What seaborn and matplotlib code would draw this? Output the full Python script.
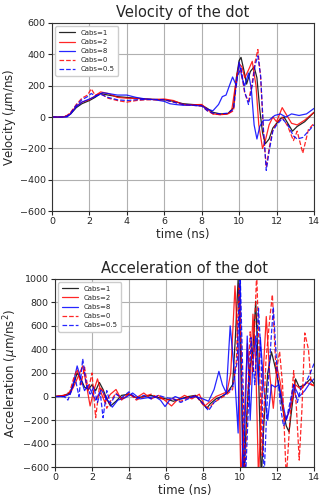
import matplotlib
matplotlib.use("Agg")
import matplotlib.pyplot as plt
import seaborn as sns

sns.set_theme(style="ticks")
plt.rcParams['font.family'] = ['DejaVu Sans']

# --- velocity data (ns, um/ns) ---
t_v_c1 = [0, 0.5, 0.8, 1.0, 1.3, 1.6, 2.0, 2.3, 2.6, 3.0, 3.5, 4.0, 4.5, 5.0, 5.5, 6.0, 6.5, 7.0, 7.5, 8.0, 8.3, 8.6, 9.0, 9.4, 9.7,
          9.85, 10.0, 10.1, 10.25, 10.4, 10.6, 10.8, 10.95, 11.1, 11.25, 11.4, 11.6, 11.8, 12.0, 12.2, 12.4, 12.6, 12.85, 13.1, 13.5, 14.0]
v_c1 = [0, 0, 5, 20, 60, 85, 105, 125, 150, 140, 130, 125, 120, 115, 112, 110, 100, 85, 80, 75, 55, 30, 20, 22, 60,
        250, 360, 380, 300, 210, 290, 320, 250, 50, -100, -170, -140, -70, -40, -10, 0, -40, -90, -60, -30, 30]

t_v_c2 = [0, 0.5, 0.8, 1.0, 1.3, 1.6, 2.0, 2.3, 2.6, 3.0, 3.5, 4.0, 4.5, 5.0, 5.5, 6.0, 6.5, 7.0, 7.5, 8.0, 8.3, 8.6, 9.0, 9.4, 9.6,
          9.8, 10.0, 10.15, 10.3, 10.5, 10.7, 10.9, 11.05, 11.25, 11.4, 11.6, 11.8, 12.0, 12.3, 12.5, 12.8, 13.1, 13.5, 14.0]
v_c2 = [0, 0, 5, 25, 70, 95, 110, 135, 160, 150, 125, 120, 118, 115, 112, 115, 105, 80, 78, 80, 50, 20, 15, 20, 40,
        200, 340, 320, 250, 300, 355, 200, -50, -200, -150, -50, 0, -30, 60, 20, -40, -50, -20, 30]

t_v_c8 = [0, 0.5, 0.8, 1.0, 1.3, 1.6, 2.0, 2.4, 2.7, 3.0, 3.5, 4.0, 4.5, 5.0, 5.5, 6.0, 6.3, 6.6, 7.0, 7.5, 8.0, 8.3, 8.6, 8.9, 9.1,
          9.3, 9.45, 9.65, 9.85, 10.0, 10.15, 10.3, 10.5, 10.65, 10.8, 10.95, 11.1, 11.3, 11.6, 11.9, 12.2, 12.5, 12.8, 13.2, 13.6, 14.0]
v_c8 = [0, 0, 0, 20, 65, 95, 115, 135, 155, 150, 140, 140, 125, 115, 110, 100, 85, 80, 75, 75, 70, 50, 40, 80, 130,
        140, 190, 255, 200, 350, 250, 200, 280, 180, -50, -140, -60, -20, -20, 10, 20, 0, 20, 10, 20, 55]

t_v_c0 = [0, 0.5, 0.8, 1.0, 1.3, 1.6, 1.9, 2.1, 2.3, 2.6, 3.0, 3.5, 4.0, 4.5, 5.0, 5.5, 6.0, 6.5, 7.0, 7.5, 8.0, 8.3, 8.6, 9.0, 9.4, 9.7,
          9.9, 10.1, 10.3, 10.5, 10.7, 10.85, 11.0, 11.15, 11.3, 11.45, 11.6, 11.8, 12.0, 12.3, 12.6, 12.9, 13.1, 13.4, 13.7, 14.0]
v_c0 = [0, 0, 10, 30, 80, 120, 140, 180, 140, 150, 120, 105, 95, 105, 110, 110, 110, 95, 80, 75, 70, 40, 20, 15, 20, 40,
        280, 300, 150, 100, 220, 350, 430, 250, -100, -320, -200, -80, -40, 0, -60, -150, -90, -230, -80, -40]

t_v_c05 = t_v_c0
v_c05 = [0, 0, 5, 25, 75, 110, 130, 150, 135, 145, 125, 110, 105, 110, 112, 112, 110, 95, 80, 75, 72, 40, 25, 20, 25, 50,
         260, 310, 160, 80, 200, 330, 390, 260, -80, -340, -220, -90, -50, -10, -50, -120, -140, -130, -90, -50]

# --- acceleration data (ns, um/ns^2) ---
t_a_c1 = [0, 0.5, 0.8, 1.0, 1.2, 1.4, 1.6, 1.8, 2.0, 2.2, 2.4, 2.6, 2.8, 3.0, 3.3, 3.6, 4.0, 4.4, 4.8, 5.2, 5.6, 6.0, 6.4, 6.8, 7.2,
          7.6, 8.0, 8.2, 8.4, 8.7, 9.0, 9.3, 9.6, 9.75, 9.9, 10.05, 10.2, 10.35, 10.5, 10.7, 10.85, 11.0, 11.15, 11.3, 11.5, 11.7,
          11.9, 12.1, 12.3, 12.5, 12.65, 12.8, 13.0, 13.2, 13.5, 13.8, 14.0]
a_c1 = [0, 10, 30, 100, 200, 150, 80, 60, 100, 50, 120, 60, -20, -80, -40, 10, 20, -10, 0, 10, -10, -20, -40, -20, 0,
        10, -60, -100, -60, -20, 0, 30, 100, 500, 1000, 300, -700, -200, 200, 400, 810, 200, -700, -200, 200, 380,
        250, 100, -100, -250, -300, -100, 150, 80, 100, 150, 110]

t_a_c2 = [0, 0.5, 0.8, 1.0, 1.2, 1.5, 1.7, 1.9, 2.1, 2.3, 2.5, 2.7, 3.0, 3.3, 3.6, 4.0, 4.4, 4.8, 5.2, 5.6, 6.0, 6.3, 6.6, 7.0, 7.4,
          7.8, 8.1, 8.4, 8.7, 9.0, 9.3, 9.5, 9.73, 9.9, 10.05, 10.2, 10.4, 10.55, 10.7, 10.85, 11.0, 11.15, 11.42, 11.6, 11.8,
          12.0, 12.2, 12.4, 12.6, 12.8, 13.0, 13.3, 13.6, 14.0]
a_c2 = [0, 10, 20, 80, 150, 260, 100, -80, 50, 150, 30, -50, 20, 60, -30, 20, -10, 30, -20, 10, -40, -80, -30, 10, -20,
        20, -80, -40, 0, 20, 40, 200, 940, 400, -700, -300, 450, 100, 700, 300, -700, -100, 680, 200, -100,
        250, 100, -200, -150, -50, 100, 60, 120, 90]

t_a_c8 = [0, 0.5, 0.8, 1.0, 1.2, 1.4, 1.6, 1.8, 2.0, 2.2, 2.5, 2.8, 3.1, 3.4, 3.8, 4.2, 4.6, 5.0, 5.4, 5.7, 5.95, 6.2, 6.5, 6.8, 7.2,
          7.6, 8.0, 8.3, 8.6, 8.86, 9.05, 9.26, 9.47, 9.7, 9.9, 10.0, 10.15, 10.3, 10.39, 10.55, 10.7, 10.84, 11.0, 11.1, 11.3,
          11.5, 11.7, 11.9, 12.1, 12.3, 12.5, 12.7, 12.9, 13.2, 13.5, 13.8, 14.0]
a_c8 = [0, 0, 20, 120, 260, 150, 50, 100, 30, -30, 60, -20, -90, -30, -10, 30, -20, -10, 0, -30, -85, -30, 0, -20, -10,
        0, -20, -40, 60, 214, 100, 30, 600, 200, -310, 1100, -700, -100, 514, -200, 300, 514, 100, 500, 50,
        -200, 100, 80, 100, -50, -200, -100, 100, 0, 50, 120, 150]

t_a_c0 = [0, 0.5, 0.8, 1.0, 1.2, 1.4, 1.6, 1.8, 2.0, 2.2, 2.4, 2.6, 2.8, 3.0, 3.3, 3.6, 4.0, 4.4, 4.8, 5.2, 5.6, 6.0, 6.4, 6.8, 7.2,
          7.6, 8.0, 8.3, 8.6, 9.0, 9.3, 9.6, 9.8, 9.95, 10.1, 10.25, 10.4, 10.55, 10.7, 10.9, 11.05, 11.2, 11.4, 11.6, 11.75,
          11.95, 12.14, 12.3, 12.5, 12.7, 12.9, 13.05, 13.2, 13.35, 13.5, 13.7, 13.85, 14.0]
a_c0 = [0, 10, 40, 150, 230, 100, 250, 50, 200, -180, 80, 50, -100, -40, 30, -20, 30, -30, 0, 20, -10, -30, -20, -40, -10,
        10, -70, -100, -50, -10, 20, 60, 300, 950, 200, -700, -100, 550, 200, 1050, 300, -500, 300, 650, 865,
        200, 383, 100, -700, -200, 220, -100, -540, -100, 540, 400, 100, 100]

t_a_c05 = [0, 0.5, 0.7, 0.9, 1.1, 1.3, 1.5, 1.7, 1.9, 2.1, 2.3, 2.45, 2.6, 2.8, 3.0, 3.3, 3.6, 4.0, 4.4, 4.8, 5.2, 5.6, 6.0, 6.4, 6.8,
           7.2, 7.6, 8.0, 8.3, 8.6, 9.0, 9.3, 9.6, 9.85, 10.0, 10.15, 10.3, 10.45, 10.6, 10.8, 11.0, 11.15, 11.3, 11.45, 11.6,
           11.8, 12.0, 12.2, 12.35, 12.5, 12.7, 12.9, 13.1, 13.3, 13.5, 13.8, 14.0]
a_c05 = [0, 0, -30, 50, 150, 0, 320, 100, 20, 80, -50, 30, -180, 50, -60, 20, -10, 40, -20, 10, -20, 10, -10, -20, -50,
         -20, 10, -60, -120, -50, 0, 30, 80, 300, 1100, 200, -700, -100, 500, 100, 750, 300, -700, -100, 300,
         760, 230, -100, -250, -200, -50, 100, -50, 80, 100, 200, 280]

labels = ['Cabs=1', 'Cabs=2', 'Cabs=8', 'Cabs=0', 'Cabs=0.5']
colors = ['black', 'red', 'blue', 'red', 'blue']
styles = ['-', '-', '-', '--', '--']

vel = [(t_v_c1, v_c1), (t_v_c2, v_c2), (t_v_c8, v_c8), (t_v_c0, v_c0), (t_v_c05, v_c05)]
acc = [(t_a_c1, a_c1), (t_a_c2, a_c2), (t_a_c8, a_c8), (t_a_c0, a_c0), (t_a_c05, a_c05)]

fig = plt.figure(figsize=(3.33, 4.97), dpi=100)
ax1 = fig.add_axes([0.156, 0.575, 0.787, 0.379])
ax2 = fig.add_axes([0.165, 0.060, 0.778, 0.379])


def draw(ax, series, ylim, yticks, ylabel, title):
    for (t, y), lab, c, ls in zip(series, labels, colors, styles):
        sns.lineplot(x=t, y=y, ax=ax, color=c, linestyle=ls, linewidth=0.9,
                     alpha=0.85, label=lab, sort=False)
    ax.set_xlim(0, 14)
    ax.set_ylim(*ylim)
    ax.set_xticks(range(0, 15, 2))
    ax.set_yticks(yticks)
    ax.grid(True, color='#b0b0b0', linewidth=0.8)
    ax.set_axisbelow(True)
    for s in ax.spines.values():
        s.set_color('#333333')
        s.set_linewidth(0.8)
    ax.tick_params(labelsize=6.8, length=3, width=0.8, pad=1.5)
    ax.set_xlabel('time (ns)', fontsize=8.5, labelpad=1)
    ax.set_ylabel(ylabel, fontsize=8.5, labelpad=1)
    ax.set_title(title, fontsize=10.5, pad=4)
    ax.legend(loc='upper left', fontsize=5, handlelength=2.3, borderpad=0.5,
              labelspacing=0.45, framealpha=1, edgecolor='#cccccc', fancybox=True)


draw(ax1, vel, (-600, 600), range(-600, 601, 200), r'Velocity ($\mu$m/ns)', 'Velocity of the dot')
draw(ax2, acc, (-600, 1000), range(-600, 1001, 200), r'Acceleration ($\mu$m/ns$^2$)', 'Acceleration of the dot')

fig.savefig('out.png', dpi=100)
